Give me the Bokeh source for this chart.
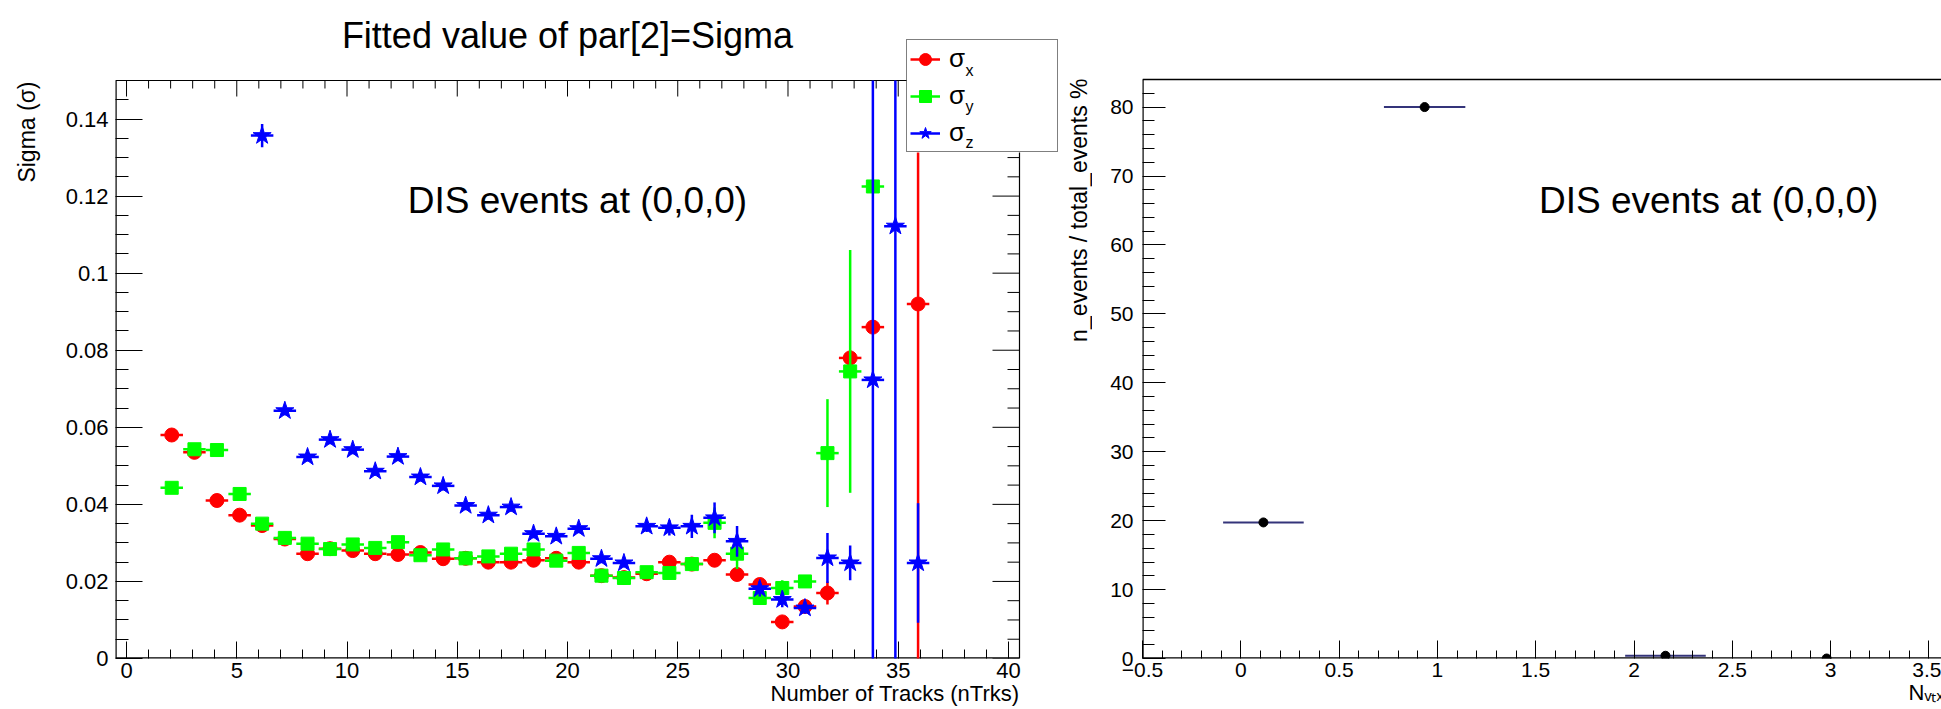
import math
from bokeh.plotting import figure
from bokeh.models import (Range1d, LinearAxis, FixedTicker, Title,
                          PrintfTickFormatter, Label, Legend, LegendItem, ColumnDataSource)
from bokeh.layouts import row
from bokeh.embed import file_html
from bokeh.resources import INLINE

FONT = "Liberation Sans"

# ---------------- left panel: fitted sigma vs number of tracks ----------------
half_bin = 0.51

sx_x = [2.05, 3.08, 4.10, 5.13, 6.15, 7.18, 8.21, 9.23, 10.26, 11.28, 12.31, 13.33,
        14.36, 15.38, 16.41, 17.44, 18.46, 19.49, 20.51, 21.54, 22.56, 23.59, 24.62,
        25.64, 26.67, 27.69, 28.72, 29.74, 30.77, 31.79, 32.82, 33.85, 35.90]
sx_y = [0.058, 0.0535, 0.041, 0.0372, 0.0345, 0.031, 0.0272, 0.0285, 0.028, 0.0272,
        0.027, 0.0275, 0.0259, 0.026, 0.025, 0.025, 0.0255, 0.026, 0.025, 0.0215,
        0.021, 0.022, 0.025, 0.0245, 0.0255, 0.0218, 0.0192, 0.0095, 0.0135, 0.017,
        0.078, 0.086, 0.092]
sx_err = [0.0008, 0.0008, 0.0008, 0.0008, 0.0008, 0.0008, 0.0008, 0.0008, 0.0008, 0.0008,
          0.0008, 0.0008, 0.0008, 0.0008, 0.0008, 0.0008, 0.0008, 0.0008, 0.0008, 0.0008,
          0.0008, 0.0008, 0.0008, 0.0008, 0.0008, 0.0010, 0.0015, 0.0010, 0.0010, 0.0030,
          0.0020, 0.0010, 0.2]

sy_x = [2.05, 3.08, 4.10, 5.13, 6.15, 7.18, 8.21, 9.23, 10.26, 11.28, 12.31, 13.33,
        14.36, 15.38, 16.41, 17.44, 18.46, 19.49, 20.51, 21.54, 22.56, 23.59, 24.62,
        25.64, 26.67, 27.69, 28.72, 29.74, 30.77, 31.79, 32.82, 33.85]
sy_y = [0.0443, 0.0543, 0.0541, 0.0427, 0.035, 0.0313, 0.0298, 0.0284, 0.0296, 0.0287,
        0.0302, 0.0268, 0.0283, 0.026, 0.0265, 0.0272, 0.0283, 0.0254, 0.0274, 0.0215,
        0.0209, 0.0224, 0.0222, 0.0245, 0.0352, 0.0272, 0.0157, 0.0183, 0.0200, 0.0533,
        0.0745, 0.1225]
sy_err = [0.001, 0.001, 0.001, 0.001, 0.001, 0.001, 0.001, 0.001, 0.001, 0.001,
          0.001, 0.001, 0.001, 0.001, 0.001, 0.001, 0.001, 0.001, 0.001, 0.001,
          0.001, 0.001, 0.001, 0.001, 0.004, 0.004, 0.0015, 0.002, 0.0015, 0.014,
          0.0315, 0.0012]

sz_x = [6.15, 7.18, 8.21, 9.23, 10.26, 11.28, 12.31, 13.33, 14.36, 15.38, 16.41, 17.44,
        18.46, 19.49, 20.51, 21.54, 22.56, 23.59, 24.62, 25.64, 26.67, 27.69, 28.72,
        29.74, 30.77, 31.79, 32.82, 33.85, 34.87, 35.90]
sz_y = [0.1357, 0.0643, 0.0523, 0.0568, 0.0542, 0.0486, 0.0524, 0.0471, 0.0448, 0.0397,
        0.0372, 0.0393, 0.0324, 0.0317, 0.0337, 0.0259, 0.0248, 0.0343, 0.0339, 0.0343,
        0.0365, 0.0304, 0.0181, 0.0153, 0.0131, 0.0261, 0.0248, 0.0723, 0.1122, 0.0248]
sz_err = [0.003, 0.0012, 0.0012, 0.0012, 0.0012, 0.0012, 0.0012, 0.0012, 0.0012, 0.0012,
          0.0012, 0.0012, 0.0012, 0.0012, 0.0012, 0.0012, 0.0012, 0.0015, 0.002, 0.003,
          0.004, 0.004, 0.002, 0.002, 0.0015, 0.0065, 0.0045, 0.2, 0.2, 0.0155]

series = [
    ("σ", "x", sx_x, sx_y, sx_err, "#ff0000", "circle", 14),
    ("σ", "y", sy_x, sy_y, sy_err, "#00ff00", "square", 13),
    ("σ", "z", sz_x, sz_y, sz_err, "#0000ff", "star", 19),
]

x1_ticks = [0, 5, 10, 15, 20, 25, 30, 35, 40]
x1_minor = [v for v in range(1, 40) if v % 5 != 0]
y1_ticks = [0.0, 0.02, 0.04, 0.06, 0.08, 0.1, 0.12, 0.14]
y1_minor = [round(0.005 * k, 3) for k in range(1, 30) if k % 4 != 0]

# ---------------- right panel: fraction of events vs N_vtx ----------------
nv_x = [0.115, 0.935, 2.16, 2.98]
nv_y = [19.74, 80.0, 0.4, 0.0]
nv_xerr = [0.205, 0.207, 0.205, 0.0]

x2_ticks = [-0.5, 0.0, 0.5, 1.0, 1.5, 2.0, 2.5, 3.0, 3.5]
x2_minor = [round(-0.5 + 0.1 * k, 1) for k in range(1, 41) if k % 5 != 0]
y2_ticks = [0, 10, 20, 30, 40, 50, 60, 70, 80]
y2_minor = [v for v in range(2, 84, 2) if v % 10 != 0]

# ======================= geometry (window pixels) =======================
H, B = 709, 51                    # canvas height, common bottom border
FB = H - B                        # frame bottom (canvas y)
W0 = 60                           # narrow strip holding the left y title
FRAME1_L, FRAME1_R = 115, 1092    # bokeh frame of the left panel (window x)
BOX1_W, BOX1_H = 904, 578         # visible ROOT frame of left panel
X1_LO, X1_HI, Y1_LO, Y1_HI = -0.5, 40.5, 0.0, 0.15
px_x1 = BOX1_W / (X1_HI - X1_LO)
px_y1 = BOX1_H / (Y1_HI - Y1_LO)
x1_end = X1_LO + (FRAME1_R - FRAME1_L) / px_x1
y1_end = Y1_LO + FB / px_y1

def X1(px):   # window pixel -> data x (left panel)
    return X1_LO + (px - FRAME1_L) / px_x1

def Y1(py):   # window pixel -> data y (left panel)
    return Y1_LO + (FB - py) / px_y1


def blank(fig):
    fig.grid.visible = False
    fig.outline_line_color = None
    fig.background_fill_color = "white"
    fig.border_fill_color = "white"


# ---- strip with the y-axis title of the left panel ----
p0 = figure(width=W0, height=H, output_backend="svg", toolbar_location=None,
            x_range=Range1d(0, W0), y_range=Range1d(0, FB),
            min_border_left=0, min_border_right=0, min_border_top=0, min_border_bottom=B,
            x_axis_type=None, y_axis_type=None)
blank(p0)
p0.add_layout(Label(x=26, y=FB - 81, text="Sigma (σ)", text_font=FONT, angle=math.pi / 2,
                    text_font_size="23px", text_color="black", text_align="right",
                    text_baseline="middle"))

# ---- left panel ----
p1 = figure(width=FRAME1_R - W0, height=H, output_backend="svg", toolbar_location=None,
            x_range=Range1d(X1_LO, x1_end), y_range=Range1d(Y1_LO, y1_end),
            min_border_left=FRAME1_L - W0, min_border_right=0, min_border_top=0,
            min_border_bottom=B, x_axis_type=None, y_axis_type=None)
blank(p1)


def style_axis(ax, maj_in, min_in, size, standoff):
    ax.major_tick_in = maj_in
    ax.major_tick_out = 0
    ax.minor_tick_in = min_in
    ax.minor_tick_out = 0
    ax.axis_line_color = None
    ax.major_tick_line_color = "black"
    ax.minor_tick_line_color = "black"
    ax.major_label_text_font = FONT
    ax.major_label_text_color = "black"
    ax.major_label_standoff = standoff
    ax.major_label_text_font_size = size


fmt = PrintfTickFormatter(format="%g")
ax_b = LinearAxis(ticker=FixedTicker(ticks=x1_ticks, minor_ticks=x1_minor), formatter=fmt)
style_axis(ax_b, 17, 9, "22px", 4)
p1.add_layout(ax_b, "below")
ax_l = LinearAxis(ticker=FixedTicker(ticks=y1_ticks, minor_ticks=y1_minor), formatter=fmt)
style_axis(ax_l, 27, 13, "22px", 7)
p1.add_layout(ax_l, "left")

# ROOT frame box (left/bottom edges sit on the bokeh frame edge, so they are drawn wider)
p1.segment(x0=[X1_LO, X1_HI], y0=[Y1_HI, Y1_LO], x1=[X1_HI, X1_HI], y1=[Y1_HI, Y1_HI],
           line_color="black", line_width=1.2)
p1.segment(x0=[X1_LO, X1_LO], y0=[Y1_LO, Y1_LO], x1=[X1_LO, X1_HI], y1=[Y1_HI, Y1_LO],
           line_color="black", line_width=2.4)
# mirrored ticks on the top and right sides
p1.segment(x0=x1_ticks, y0=[Y1_HI] * len(x1_ticks), x1=x1_ticks,
           y1=[Y1_HI - 16 / px_y1] * len(x1_ticks), line_color="black", line_width=1)
p1.segment(x0=x1_minor, y0=[Y1_HI] * len(x1_minor), x1=x1_minor,
           y1=[Y1_HI - 8 / px_y1] * len(x1_minor), line_color="black", line_width=1)
p1.segment(x0=[X1_HI] * len(y1_ticks), y0=y1_ticks, x1=[X1_HI - 27 / px_x1] * len(y1_ticks),
           y1=y1_ticks, line_color="black", line_width=1)
p1.segment(x0=[X1_HI] * len(y1_minor), y0=y1_minor, x1=[X1_HI - 12 / px_x1] * len(y1_minor),
           y1=y1_minor, line_color="black", line_width=1)

legend_items = []
for sym, sub, xs, ys, es, col, marker, msize in series:
    src = ColumnDataSource(dict(
        x=xs, y=ys,
        ylo=[y - e for y, e in zip(ys, es)], yhi=[min(y + e, Y1_HI) for y, e in zip(ys, es)],
        xlo=[x - half_bin for x in xs], xhi=[x + half_bin for x in xs]))
    p1.segment(x0="x", y0="ylo", x1="x", y1="yhi", source=src, line_color=col, line_width=2.5)
    hseg = p1.segment(x0="xlo", y0="y", x1="xhi", y1="y", source=src, line_color=col, line_width=2.5)
    sc = p1.scatter(x="x", y="y", source=src, marker=marker, size=msize,
                    fill_color=col, line_color=col)
    legend_items.append(LegendItem(label=sym, renderers=[hseg, sc]))

# white pad of the legend box (covers the data lines behind the legend)
LEG_L, LEG_R, LEG_T, LEG_B = 906, 1062, 44, 152
p1.quad(left=[X1(LEG_L)], right=[X1(LEG_R)], bottom=[Y1(LEG_B)], top=[Y1(LEG_T)],
        fill_color="white", line_color=None)

legend = Legend(items=legend_items, location=(LEG_L - FRAME1_L, FB - LEG_B),
                orientation="vertical", glyph_width=30, glyph_height=30, spacing=6, padding=3,
                margin=0, label_standoff=9, label_width=LEG_R - LEG_L - 51,
                label_text_font=FONT, label_text_font_size="26px", label_text_color="black",
                border_line_color="black", border_line_width=1,
                background_fill_color="white", background_fill_alpha=0.0)
p1.add_layout(legend, "center")

for series_item, py in zip(series, [70, 106, 142]):
    p1.add_layout(Label(x=X1(965), y=Y1(py), text=series_item[1], text_font=FONT,
                        text_font_size="16px", text_color="black", text_baseline="middle",
                        text_align="left", level="overlay"))

p1.add_layout(Label(x=X1(567), y=Y1(35), text="Fitted value of par[2]=Sigma", text_font=FONT,
                    text_font_size="36px", text_color="black", text_align="center",
                    text_baseline="middle", level="overlay"))
p1.add_layout(Label(x=X1(577), y=Y1(200), text="DIS events at (0,0,0)", text_font=FONT,
                    text_font_size="37px", text_color="black", text_align="center",
                    text_baseline="middle", level="overlay"))
# y title of the right panel falls in this canvas
p1.add_layout(Label(x=X1(1078), y=Y1(78), text="n_events / total_events %", text_font=FONT,
                    angle=math.pi / 2, text_font_size="23px", text_color="black",
                    text_align="right", text_baseline="middle", level="overlay"))

p1.add_layout(Title(text="Number of Tracks (nTrks)", align="right", offset=FRAME1_R - 1019,
                    vertical_align="top", standoff=0, text_font=FONT, text_font_size="22px",
                    text_font_style="normal", text_color="black"), "below")

# ======================= right panel =======================
W2 = 1941 - FRAME1_R
L2 = 50
BOX2_TOP = 79
X2_LO, X2_HI, Y2_LO, Y2_HI = -0.5, 3.564, 0.0, 84.0
px_y2 = (FB - BOX2_TOP) / (Y2_HI - Y2_LO)
y2_end = Y2_LO + FB / px_y2

p2 = figure(width=W2, height=H, output_backend="svg", toolbar_location=None,
            x_range=Range1d(X2_LO, X2_HI), y_range=Range1d(Y2_LO, y2_end),
            min_border_left=L2, min_border_right=0, min_border_top=0, min_border_bottom=B,
            x_axis_type=None, y_axis_type=None)
blank(p2)

bx2 = LinearAxis(ticker=FixedTicker(ticks=x2_ticks, minor_ticks=x2_minor), formatter=fmt)
style_axis(bx2, 18, 8, "21px", 4)
bx2.major_label_overrides = {-0.5: "\u22120.5"}
p2.add_layout(bx2, "below")
ly2 = LinearAxis(ticker=FixedTicker(ticks=y2_ticks, minor_ticks=y2_minor), formatter=fmt)
style_axis(ly2, 23, 12, "21px", 9)
p2.add_layout(ly2, "left")

# frame: top edge inside, left and bottom edges on the bokeh frame edge
p2.segment(x0=[X2_LO], y0=[Y2_HI], x1=[X2_HI + 1], y1=[Y2_HI], line_color="black", line_width=1.3)
p2.segment(x0=[X2_LO, X2_LO], y0=[Y2_LO, Y2_LO], x1=[X2_LO, X2_HI + 1], y1=[Y2_HI, Y2_LO],
           line_color="black", line_width=2.4)

src2 = ColumnDataSource(dict(x=nv_x, y=nv_y,
                             xlo=[x - e for x, e in zip(nv_x, nv_xerr)],
                             xhi=[x + e for x, e in zip(nv_x, nv_xerr)]))
p2.segment(x0="xlo", y0="y", x1="xhi", y1="y", source=src2, line_color="#34347a", line_width=2)
p2.scatter(x="x", y="y", source=src2, marker="circle", size=9, fill_color="black",
           line_color="black")

p2.add_layout(Label(x=2.38, y=66.4, text="DIS events at (0,0,0)", text_font=FONT,
                    text_font_size="37px", text_color="black", text_align="center",
                    text_baseline="middle", level="overlay"))
p2.add_layout(Title(text="N\u1d65\u209c\u2093", align="left", offset=1908 - (FRAME1_R + L2),
                    vertical_align="top", standoff=0, text_font=FONT, text_font_size="22px",
                    text_font_style="normal", text_color="black"), "below")

layout = row(p0, p1, p2, spacing=0)
open("out.html", "w").write(file_html(layout, INLINE))
